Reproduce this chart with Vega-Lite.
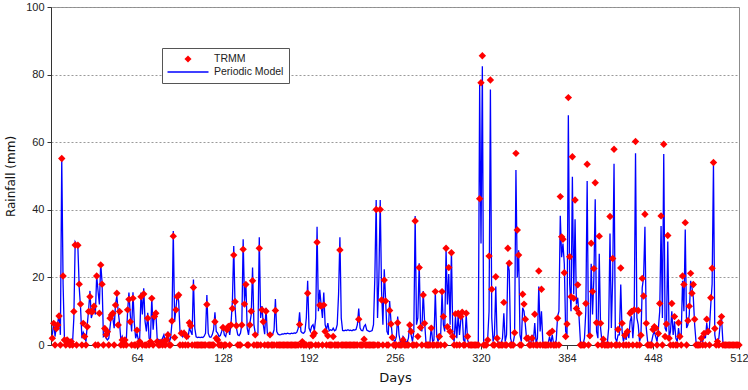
{
  "$schema": "https://vega.github.io/schema/vega-lite/v6.json",
  "width": 688,
  "height": 338,
  "autosize": {"type": "none"},
  "padding": {"left": 51, "top": 7, "right": 9, "bottom": 45},
  "background": "white",
  "config": {
    "view": {"stroke": "#8c8c8c", "strokeWidth": 1},
    "font": "Liberation Sans"
  },
  "data": {"values": [
    {"d":1,"r":2.0,"m":3.0},{"d":2,"r":6.4,"m":6.8},{"d":3,"r":0,"m":2.5},{"d":4,"r":4.9,"m":5.5},{"d":5,"r":5.9,"m":6.5},
    {"d":6,"r":8.6,"m":9.2},{"d":7,"r":0,"m":3.0},{"d":8,"r":55.2,"m":55.0},{"d":9,"r":20.4,"m":18.0},{"d":10,"r":1.5,"m":1.8},
    {"d":11,"r":0,"m":0.8},{"d":12,"r":1.5,"m":1.6},{"d":13,"r":1.0,"m":1.2},{"d":14,"r":0,"m":0.5},{"d":15,"r":1.0,"m":1.0},
    {"d":16,"r":0,"m":0.4},{"d":17,"r":9.9,"m":8.0},{"d":18,"r":29.6,"m":30.5},{"d":19,"r":0,"m":29.8},{"d":20,"r":29.5,"m":29.0},
    {"d":21,"r":18.0,"m":17.0},{"d":22,"r":12.1,"m":11.0},{"d":23,"r":0,"m":2.0},{"d":24,"r":6.4,"m":3.8},{"d":25,"r":2.5,"m":3.0},
    {"d":26,"r":0,"m":1.0},{"d":27,"r":5.4,"m":6.0},{"d":28,"r":9.9,"m":10.5},{"d":29,"r":14.3,"m":16.0},{"d":30,"r":9.9,"m":8.0},
    {"d":31,"r":9.9,"m":9.5},{"d":32,"r":11.5,"m":12.0},{"d":33,"r":0,"m":9.0},{"d":34,"r":20.4,"m":20.5},{"d":35,"r":0,"m":16.0},
    {"d":36,"r":9.4,"m":12.0},{"d":37,"r":23.7,"m":24.2},{"d":38,"r":18.0,"m":18.5},{"d":39,"r":0,"m":2.5},{"d":40,"r":4.9,"m":3.0},
    {"d":41,"r":3.0,"m":2.0},{"d":42,"r":3.9,"m":1.5},{"d":43,"r":0,"m":2.0},{"d":44,"r":7.9,"m":5.5},{"d":45,"r":8.9,"m":9.0},
    {"d":46,"r":9.4,"m":8.0},{"d":47,"r":0,"m":5.0},{"d":48,"r":11.8,"m":12.0},{"d":49,"r":15.3,"m":14.5},{"d":50,"r":5.9,"m":10.0},
    {"d":51,"r":9.9,"m":6.5},{"d":52,"r":0,"m":1.5},{"d":53,"r":1.5,"m":2.5},{"d":54,"r":0,"m":0.5},{"d":55,"r":1.5,"m":1.5},
    {"d":56,"r":0,"m":1.0},{"d":57,"r":10.4,"m":10.0},{"d":58,"r":13.5,"m":15.5},{"d":59,"r":6.9,"m":9.0},{"d":60,"r":0,"m":4.0},
    {"d":61,"r":13.8,"m":15.6},{"d":62,"r":0,"m":6.5},{"d":63,"r":0,"m":2.0},{"d":64,"r":4.4,"m":3.5},{"d":65,"r":0,"m":1.5},
    {"d":66,"r":1.0,"m":2.0},{"d":67,"r":14.3,"m":15.5},{"d":68,"r":0,"m":9.0},{"d":69,"r":15.1,"m":16.8},{"d":70,"r":0,"m":7.0},
    {"d":71,"r":0,"m":4.0},{"d":72,"r":7.9,"m":9.5},{"d":73,"r":0,"m":2.0},{"d":74,"r":1.0,"m":1.5},{"d":75,"r":13.8,"m":14.0},
    {"d":76,"r":0,"m":4.5},{"d":77,"r":8.4,"m":9.5},{"d":78,"r":9.4,"m":10.0},{"d":79,"r":1.0,"m":2.0},{"d":80,"r":0,"m":1.5},
    {"d":81,"r":0,"m":1.5},{"d":82,"r":0.8,"m":1.0},{"d":83,"r":0,"m":2.0},{"d":84,"r":1.0,"m":3.0},{"d":85,"r":0,"m":1.0},
    {"d":86,"r":1.5,"m":1.5},{"d":87,"r":3.0,"m":4.0},{"d":88,"r":0,"m":1.0},{"d":89,"r":0,"m":2.0},{"d":90,"r":7.1,"m":6.5},
    {"d":91,"r":32.2,"m":33.7},{"d":92,"r":2.2,"m":7.0},{"d":93,"r":10.4,"m":11.0},{"d":94,"r":14.3,"m":15.0},{"d":95,"r":14.8,"m":13.0},
    {"d":96,"r":0,"m":4.0},{"d":97,"r":3.5,"m":3.5},{"d":98,"r":0,"m":2.5},{"d":99,"r":3.5,"m":4.0},{"d":100,"r":0,"m":2.5},
    {"d":101,"r":2.5,"m":3.0},{"d":102,"r":0,"m":2.2},{"d":103,"r":6.6,"m":5.0},{"d":104,"r":5.7,"m":4.0},{"d":105,"r":0,"m":3.0},
    {"d":106,"r":17.0,"m":19.4},{"d":107,"r":0,"m":5.0},{"d":108,"r":0,"m":2.4},{"d":109,"r":0,"m":2.2},{"d":110,"r":0,"m":2.3},
    {"d":111,"r":0,"m":2.2},{"d":112,"r":0,"m":2.3},{"d":113,"r":0,"m":2.2},{"d":114,"r":0,"m":2.6},{"d":115,"r":0,"m":3.5},
    {"d":116,"r":12.0,"m":14.8},{"d":117,"r":0,"m":3.5},{"d":118,"r":0,"m":2.4},{"d":119,"r":0,"m":2.3},{"d":120,"r":0,"m":3.0},
    {"d":121,"r":0,"m":4.5},{"d":122,"r":6.9,"m":9.7},{"d":123,"r":2.0,"m":4.0},{"d":124,"r":1.5,"m":3.5},{"d":125,"r":0,"m":2.5},
    {"d":126,"r":0,"m":2.8},{"d":127,"r":0,"m":4.0},{"d":128,"r":5.2,"m":5.5},{"d":129,"r":0,"m":3.0},{"d":130,"r":0,"m":2.5},
    {"d":131,"r":4.5,"m":4.5},{"d":132,"r":5.5,"m":5.0},{"d":133,"r":0,"m":3.0},{"d":134,"r":5.9,"m":6.5},{"d":135,"r":10.8,"m":13.0},
    {"d":136,"r":26.6,"m":29.3},{"d":137,"r":12.8,"m":11.0},{"d":138,"r":5.7,"m":5.0},{"d":139,"r":0,"m":3.0},{"d":140,"r":0,"m":2.8},
    {"d":141,"r":0,"m":3.5},{"d":142,"r":5.9,"m":6.0},{"d":143,"r":28.3,"m":31.3},{"d":144,"r":12.1,"m":13.0},{"d":145,"r":17.9,"m":18.5},
    {"d":146,"r":0,"m":5.0},{"d":147,"r":0,"m":3.0},{"d":148,"r":5.9,"m":6.5},{"d":149,"r":10.0,"m":9.0},{"d":150,"r":19.0,"m":22.9},
    {"d":151,"r":0,"m":6.0},{"d":152,"r":3.0,"m":3.5},{"d":153,"r":0,"m":2.8},{"d":154,"r":0,"m":3.5},{"d":155,"r":28.6,"m":31.9},
    {"d":156,"r":0,"m":8.0},{"d":157,"r":10.4,"m":11.5},{"d":158,"r":6.9,"m":6.0},{"d":159,"r":0,"m":3.2},{"d":160,"r":10.0,"m":11.0},
    {"d":161,"r":0,"m":3.5},{"d":162,"r":0,"m":3.0},{"d":163,"r":3.0,"m":3.3},{"d":164,"r":0,"m":3.0},{"d":165,"r":0,"m":3.2},
    {"d":166,"r":0,"m":4.5},{"d":167,"r":10.2,"m":13.6},{"d":168,"r":0,"m":4.0},{"d":169,"r":0,"m":3.2},{"d":170,"r":0,"m":3.0},
    {"d":171,"r":0,"m":3.1},{"d":172,"r":0,"m":3.3},{"d":173,"r":0,"m":3.2},{"d":174,"r":0,"m":3.4},{"d":175,"r":0,"m":3.3},
    {"d":176,"r":0,"m":3.5},{"d":177,"r":0,"m":3.4},{"d":178,"r":0,"m":3.3},{"d":179,"r":0,"m":3.5},{"d":180,"r":0,"m":3.4},
    {"d":181,"r":0,"m":3.6},{"d":182,"r":0,"m":3.5},{"d":183,"r":0,"m":3.8},{"d":184,"r":0,"m":5.0},{"d":185,"r":6.1,"m":9.7},
    {"d":186,"r":0,"m":4.0},{"d":187,"r":1.0,"m":3.6},{"d":188,"r":0,"m":3.5},{"d":189,"r":0,"m":4.0},{"d":190,"r":0,"m":8.0},
    {"d":191,"r":15.3,"m":19.0},{"d":192,"r":0,"m":5.0},{"d":193,"r":0,"m":4.0},{"d":194,"r":0,"m":5.5},{"d":195,"r":2.7,"m":6.0},
    {"d":196,"r":3.5,"m":4.2},{"d":197,"r":0,"m":8.0},{"d":198,"r":30.4,"m":35.0},{"d":199,"r":0,"m":10.0},{"d":200,"r":11.8,"m":16.3},
    {"d":201,"r":11.5,"m":12.0},{"d":202,"r":0,"m":8.0},{"d":203,"r":11.8,"m":15.5},{"d":204,"r":4.0,"m":6.0},{"d":205,"r":0,"m":4.5},
    {"d":206,"r":2.7,"m":6.5},{"d":207,"r":0,"m":4.2},{"d":208,"r":0,"m":4.5},{"d":209,"r":0,"m":4.3},{"d":210,"r":2.5,"m":5.0},
    {"d":211,"r":0,"m":4.2},{"d":212,"r":0,"m":4.5},{"d":213,"r":0,"m":6.0},{"d":214,"r":0,"m":15.0},{"d":215,"r":28.1,"m":31.9},
    {"d":216,"r":0,"m":8.0},{"d":217,"r":0,"m":4.3},{"d":218,"r":0,"m":4.2},{"d":219,"r":0,"m":4.4},{"d":220,"r":0,"m":4.3},
    {"d":221,"r":0,"m":4.5},{"d":222,"r":0,"m":4.3},{"d":223,"r":0,"m":4.4},{"d":224,"r":0,"m":4.2},{"d":225,"r":0,"m":4.5},
    {"d":226,"r":0,"m":4.4},{"d":227,"r":0,"m":4.6},{"d":228,"r":0,"m":6.0},{"d":229,"r":7.6,"m":10.8},{"d":230,"r":0,"m":5.0},
    {"d":231,"r":0,"m":4.3},{"d":232,"r":0,"m":4.2},{"d":233,"r":1.7,"m":5.5},{"d":234,"r":0,"m":6.0},{"d":235,"r":0,"m":4.4},
    {"d":236,"r":0,"m":4.2},{"d":237,"r":0,"m":4.0},{"d":238,"r":0,"m":4.1},{"d":239,"r":0,"m":4.3},{"d":240,"r":0,"m":6.0},
    {"d":241,"r":0,"m":20.0},{"d":242,"r":40.1,"m":42.9},{"d":243,"r":0,"m":8.0},{"d":244,"r":0,"m":20.0},{"d":245,"r":40.1,"m":42.9},
    {"d":246,"r":13.3,"m":16.0},{"d":247,"r":0,"m":6.0},{"d":248,"r":19.2,"m":22.4},{"d":249,"r":13.0,"m":13.5},{"d":250,"r":0,"m":4.0},
    {"d":251,"r":0,"m":3.0},{"d":252,"r":10.2,"m":13.0},{"d":253,"r":6.2,"m":7.0},{"d":254,"r":2.2,"m":2.5},{"d":255,"r":0,"m":1.5},
    {"d":256,"r":0,"m":1.0},{"d":257,"r":0,"m":2.5},{"d":258,"r":6.6,"m":8.4},{"d":259,"r":0,"m":3.0},{"d":260,"r":0,"m":1.0},
    {"d":261,"r":0,"m":0.8},{"d":262,"r":1.5,"m":2.5},{"d":263,"r":0,"m":2.0},{"d":264,"r":0,"m":1.0},{"d":265,"r":0,"m":0.8},
    {"d":266,"r":0,"m":2.0},{"d":267,"r":5.9,"m":6.5},{"d":268,"r":4.0,"m":3.0},{"d":269,"r":0,"m":1.0},{"d":270,"r":0,"m":4.0},
    {"d":271,"r":36.7,"m":38.2},{"d":272,"r":0,"m":6.0},{"d":273,"r":2.5,"m":8.0},{"d":274,"r":22.9,"m":24.2},{"d":275,"r":5.2,"m":6.0},
    {"d":276,"r":0,"m":4.0},{"d":277,"r":14.8,"m":16.0},{"d":278,"r":6.4,"m":7.0},{"d":279,"r":0,"m":1.0},{"d":280,"r":0,"m":0.5},
    {"d":281,"r":0,"m":0.5},{"d":282,"r":0,"m":0.8},{"d":283,"r":5.0,"m":5.5},{"d":284,"r":0,"m":1.0},{"d":285,"r":0,"m":1.5},
    {"d":286,"r":15.8,"m":15.7},{"d":287,"r":0,"m":3.0},{"d":288,"r":0,"m":1.0},{"d":289,"r":2.5,"m":2.5},{"d":290,"r":0,"m":3.0},
    {"d":291,"r":15.8,"m":15.7},{"d":292,"r":8.4,"m":6.0},{"d":293,"r":0,"m":4.0},{"d":294,"r":28.6,"m":28.3},{"d":295,"r":5.4,"m":12.0},
    {"d":296,"r":22.9,"m":21.0},{"d":297,"r":4.0,"m":6.0},{"d":298,"r":27.3,"m":27.8},{"d":299,"r":2.5,"m":3.0},{"d":300,"r":0,"m":1.0},
    {"d":301,"r":9.2,"m":8.5},{"d":302,"r":0,"m":2.0},{"d":303,"r":9.4,"m":9.0},{"d":304,"r":0,"m":3.0},{"d":305,"r":8.4,"m":7.5},
    {"d":306,"r":9.7,"m":9.5},{"d":307,"r":0,"m":1.5},{"d":308,"r":0,"m":1.0},{"d":309,"r":9.4,"m":9.0},{"d":310,"r":2.5,"m":1.5},
    {"d":311,"r":0,"m":0.3},{"d":312,"r":0,"m":0.2},{"d":313,"r":0,"m":0.2},{"d":314,"r":0,"m":0.1},{"d":315,"r":0,"m":0.3},
    {"d":316,"r":0,"m":0.2},{"d":317,"r":0,"m":0.4},{"d":318,"r":0,"m":0.5},{"d":319,"r":43.3,"m":77.0},{"d":320,"r":77.6,"m":30.0},
    {"d":321,"r":85.6,"m":82.5},{"d":322,"r":0,"m":0.5},{"d":323,"r":0,"m":0.3},{"d":324,"r":0,"m":0.5},{"d":325,"r":1.5,"m":2.0},
    {"d":326,"r":26.3,"m":10.0},{"d":327,"r":78.4,"m":75.6},{"d":328,"r":16.5,"m":8.0},{"d":329,"r":0,"m":1.0},{"d":330,"r":0,"m":3.0},
    {"d":331,"r":20.2,"m":17.3},{"d":332,"r":2.0,"m":1.5},{"d":333,"r":0,"m":0.5},{"d":334,"r":0,"m":0.3},{"d":335,"r":0,"m":0.5},
    {"d":336,"r":0,"m":2.0},{"d":337,"r":12.6,"m":9.4},{"d":338,"r":0,"m":1.0},{"d":339,"r":0,"m":3.0},{"d":340,"r":28.6,"m":24.2},
    {"d":341,"r":24.2,"m":22.0},{"d":342,"r":0,"m":2.0},{"d":343,"r":0,"m":0.5},{"d":344,"r":0,"m":0.8},{"d":345,"r":3.6,"m":3.0},
    {"d":346,"r":56.7,"m":51.8},{"d":347,"r":34.0,"m":20.0},{"d":348,"r":26.6,"m":28.0},{"d":349,"r":0,"m":3.0},{"d":350,"r":0,"m":1.0},
    {"d":351,"r":15.0,"m":11.0},{"d":352,"r":12.1,"m":10.0},{"d":353,"r":7.6,"m":6.0},{"d":354,"r":2.0,"m":1.5},{"d":355,"r":2.0,"m":2.5},
    {"d":356,"r":0,"m":0.5},{"d":357,"r":0,"m":0.3},{"d":358,"r":2.0,"m":3.0},{"d":359,"r":0,"m":1.0},{"d":360,"r":9.1,"m":6.5},
    {"d":361,"r":0,"m":0.5},{"d":362,"r":0,"m":2.0},{"d":363,"r":21.9,"m":17.3},{"d":364,"r":0,"m":4.0},{"d":365,"r":16.5,"m":10.0},
    {"d":366,"r":0,"m":1.0},{"d":367,"r":0,"m":0.3},{"d":368,"r":0,"m":0.2},{"d":369,"r":0,"m":0.4},{"d":370,"r":0,"m":0.5},
    {"d":371,"r":3.5,"m":2.5},{"d":372,"r":0,"m":0.5},{"d":373,"r":4.1,"m":3.0},{"d":374,"r":0,"m":0.5},{"d":375,"r":0,"m":0.3},
    {"d":376,"r":0,"m":1.5},{"d":377,"r":7.9,"m":8.5},{"d":378,"r":0,"m":10.0},{"d":379,"r":43.9,"m":38.2},{"d":380,"r":32.0,"m":26.0},
    {"d":381,"r":31.3,"m":30.0},{"d":382,"r":21.4,"m":24.0},{"d":383,"r":2.5,"m":4.0},{"d":384,"r":6.2,"m":3.0},{"d":385,"r":73.2,"m":68.0},
    {"d":386,"r":26.1,"m":18.0},{"d":387,"r":14.3,"m":10.0},{"d":388,"r":55.7,"m":49.8},{"d":389,"r":13.8,"m":15.0},{"d":390,"r":42.9,"m":37.2},
    {"d":391,"r":10.8,"m":12.0},{"d":392,"r":17.8,"m":14.0},{"d":393,"r":9.4,"m":8.0},{"d":394,"r":0,"m":1.0},{"d":395,"r":0,"m":0.5},
    {"d":396,"r":0,"m":0.3},{"d":397,"r":0,"m":2.0},{"d":398,"r":12.3,"m":10.0},{"d":399,"r":53.5,"m":48.5},{"d":400,"r":0,"m":3.0},
    {"d":401,"r":2.7,"m":2.0},{"d":402,"r":30.1,"m":24.0},{"d":403,"r":15.8,"m":9.0},{"d":404,"r":22.6,"m":20.0},{"d":405,"r":48.0,"m":43.1},
    {"d":406,"r":6.6,"m":4.0},{"d":407,"r":0,"m":2.0},{"d":408,"r":32.2,"m":27.0},{"d":409,"r":6.4,"m":5.0},{"d":410,"r":0,"m":1.0},
    {"d":411,"r":1.7,"m":1.0},{"d":412,"r":0,"m":0.3},{"d":413,"r":0,"m":0.2},{"d":414,"r":0,"m":0.5},{"d":415,"r":0,"m":5.0},
    {"d":416,"r":38.0,"m":33.0},{"d":417,"r":0,"m":5.0},{"d":418,"r":25.6,"m":20.0},{"d":419,"r":57.9,"m":53.6},{"d":420,"r":0,"m":2.0},
    {"d":421,"r":0,"m":1.0},{"d":422,"r":4.6,"m":3.0},{"d":423,"r":0,"m":3.0},{"d":424,"r":22.8,"m":17.9},{"d":425,"r":6.4,"m":4.0},
    {"d":426,"r":0,"m":1.0},{"d":427,"r":2.9,"m":3.0},{"d":428,"r":0,"m":1.5},{"d":429,"r":4.0,"m":4.5},{"d":430,"r":0,"m":2.0},
    {"d":431,"r":9.4,"m":7.0},{"d":432,"r":9.9,"m":8.5},{"d":433,"r":0,"m":2.0},{"d":434,"r":10.4,"m":8.0},{"d":435,"r":60.2,"m":56.7},
    {"d":436,"r":0,"m":8.0},{"d":437,"r":10.2,"m":6.0},{"d":438,"r":0,"m":1.0},{"d":439,"r":2.9,"m":2.5},{"d":440,"r":19.7,"m":17.0},
    {"d":441,"r":14.5,"m":20.0},{"d":442,"r":38.7,"m":35.0},{"d":443,"r":6.4,"m":5.0},{"d":444,"r":0,"m":1.0},{"d":445,"r":0,"m":0.5},
    {"d":446,"r":0,"m":0.3},{"d":447,"r":0,"m":1.0},{"d":448,"r":4.6,"m":3.0},{"d":449,"r":5.4,"m":4.0},{"d":450,"r":5.0,"m":2.5},
    {"d":451,"r":0,"m":1.0},{"d":452,"r":3.4,"m":5.0},{"d":453,"r":12.3,"m":10.0},{"d":454,"r":38.2,"m":35.2},{"d":455,"r":0,"m":8.0},
    {"d":456,"r":59.4,"m":56.5},{"d":457,"r":2.5,"m":5.0},{"d":458,"r":6.2,"m":4.0},{"d":459,"r":32.4,"m":30.6},{"d":460,"r":2.0,"m":2.0},
    {"d":461,"r":0,"m":4.0},{"d":462,"r":12.3,"m":10.0},{"d":463,"r":0,"m":3.0},{"d":464,"r":8.4,"m":7.0},{"d":465,"r":0,"m":2.0},
    {"d":466,"r":0,"m":1.0},{"d":467,"r":6.6,"m":5.0},{"d":468,"r":2.5,"m":2.0},{"d":469,"r":0,"m":3.0},{"d":470,"r":20.4,"m":19.0},
    {"d":471,"r":17.9,"m":10.0},{"d":472,"r":36.2,"m":34.2},{"d":473,"r":0,"m":5.0},{"d":474,"r":7.2,"m":6.0},{"d":475,"r":11.5,"m":9.0},
    {"d":476,"r":21.2,"m":19.0},{"d":477,"r":15.3,"m":17.0},{"d":478,"r":17.9,"m":14.0},{"d":479,"r":7.6,"m":6.0},{"d":480,"r":0,"m":1.0},
    {"d":481,"r":0,"m":0.5},{"d":482,"r":0,"m":0.3},{"d":483,"r":0,"m":0.5},{"d":484,"r":2.0,"m":1.5},{"d":485,"r":0,"m":1.0},
    {"d":486,"r":3.4,"m":3.0},{"d":487,"r":0,"m":2.0},{"d":488,"r":7.6,"m":6.5},{"d":489,"r":4.0,"m":3.0},{"d":490,"r":0,"m":5.0},
    {"d":491,"r":14.0,"m":12.0},{"d":492,"r":22.7,"m":18.0},{"d":493,"r":54.0,"m":53.6},{"d":494,"r":4.9,"m":3.0},{"d":495,"r":0,"m":0.5},
    {"d":496,"r":1.0,"m":1.0},{"d":497,"r":0,"m":2.0},{"d":498,"r":6.6,"m":6.0},{"d":499,"r":8.4,"m":8.0},{"d":500,"r":0,"m":1.0},
    {"d":501,"r":0,"m":0.2},{"d":502,"r":0,"m":0.1},{"d":503,"r":0,"m":0},{"d":504,"r":0,"m":0},{"d":505,"r":0,"m":0},
    {"d":506,"r":0,"m":0},{"d":507,"r":0,"m":0},{"d":508,"r":0,"m":0},{"d":509,"r":0,"m":0},{"d":510,"r":0,"m":0},
    {"d":511,"r":0,"m":0},{"d":512,"r":0,"m":0}
  ]},
  "encoding": {
    "x": {
      "field": "d",
      "type": "quantitative",
      "scale": {"domain": [0, 512], "nice": false, "zero": false},
      "axis": {
        "title": "Days",
        "values": [64, 128, 192, 256, 320, 384, 448, 512],
        "grid": false,
        "labelFlush": false,
        "labelFont": "Liberation Sans",
        "labelFontSize": 11,
        "labelColor": "#222222",
        "labelPadding": 3,
        "tickSize": 4,
        "tickColor": "#333333",
        "domainColor": "#333333",
        "titleFont": "DejaVu Sans",
        "titleFontSize": 13,
        "titleFontWeight": "normal",
        "titleColor": "#111111",
        "titlePadding": 8
      }
    }
  },
  "layer": [
    {
      "mark": {"type": "line", "strokeWidth": 1.3, "interpolate": "linear"},
      "encoding": {
        "y": {
          "field": "m",
          "type": "quantitative",
          "scale": {"domain": [0, 100], "nice": false},
          "axis": {
            "title": "Rainfall (mm)",
            "values": [0, 20, 40, 60, 80, 100],
            "grid": true,
            "gridColor": "#9a9a9a",
            "gridDash": [2, 2],
            "gridWidth": 1,
            "labelFont": "Liberation Sans",
            "labelFontSize": 11,
            "labelColor": "#222222",
            "labelPadding": 3,
            "tickSize": 4,
            "tickColor": "#333333",
            "domainColor": "#333333",
            "titleFont": "DejaVu Sans",
            "titleFontSize": 12,
            "titleFontWeight": "normal",
            "titleColor": "#111111",
            "titlePadding": 8
          }
        },
        "color": {
          "datum": "Periodic Model",
          "type": "nominal",
          "scale": {"domain": ["TRMM", "Periodic Model"], "range": ["#ff0000", "#0000ff"]},
          "legend": {
            "title": null,
            "orient": "none",
            "legendX": 111,
            "legendY": 41,
            "fillColor": "white",
            "strokeColor": "#555555",
            "padding": 5,
            "labelFont": "Liberation Sans",
            "labelFontSize": 10.5,
            "labelColor": "#222222",
            "labelOffset": 6,
            "symbolSize": 1600,
            "symbolStrokeWidth": 1.5,
            "clipHeight": 12,
            "rowPadding": 1,
            "encode": {
              "symbols": {
                "update": {
                  "x": {"value": 21},
                  "shape": {"signal": "datum.value === 'TRMM' ? 'diamond' : 'stroke'"},
                  "size": {"signal": "datum.value === 'TRMM' ? 50 : 1681"},
                  "fill": {"signal": "datum.value === 'TRMM' ? '#ff0000' : 'transparent'"},
                  "stroke": {"signal": "datum.value === 'TRMM' ? '#ff0000' : '#0000ff'"},
                  "strokeWidth": {"signal": "datum.value === 'TRMM' ? 0 : 1.5"},
                  "opacity": {"value": 1}
                }
              },
              "labels": {
                "update": {
                  "x": {"value": 47}
                }
              }
            }
          }
        }
      }
    },
    {
      "mark": {"type": "point", "shape": "diamond", "filled": true, "size": 55, "opacity": 1},
      "encoding": {
        "y": {
          "field": "r",
          "type": "quantitative",
          "axis": {
            "title": "Rainfall (mm)",
            "values": [0, 20, 40, 60, 80, 100],
            "grid": true,
            "gridColor": "#9a9a9a",
            "gridDash": [2, 2],
            "gridWidth": 1,
            "labelFont": "Liberation Sans",
            "labelFontSize": 11,
            "labelColor": "#222222",
            "labelPadding": 3,
            "tickSize": 4,
            "tickColor": "#333333",
            "domainColor": "#333333",
            "titleFont": "DejaVu Sans",
            "titleFontSize": 12,
            "titleFontWeight": "normal",
            "titleColor": "#111111",
            "titlePadding": 8
          }
        },
        "color": {"datum": "TRMM", "type": "nominal"}
      }
    }
  ]
}
